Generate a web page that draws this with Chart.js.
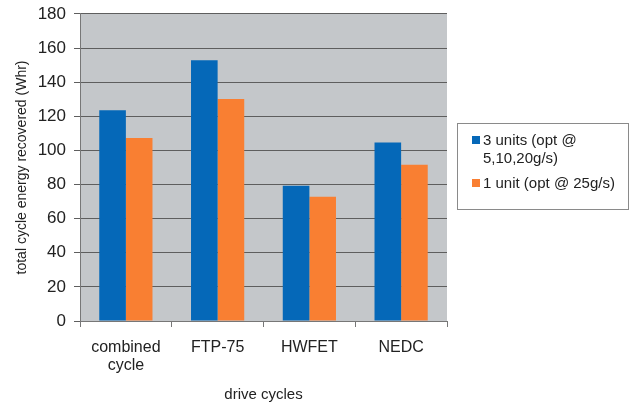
<!DOCTYPE html>
<html lang="en">
<head>
  <meta charset="UTF-8" />
  <title>Drive cycle energy recovered</title>
  <script src="https://cdn.jsdelivr.net/npm/chart.js"></script>
  <style>
    body {
      margin: 0;
      background: #fff;
      font-family: "Liberation Sans", Arial, sans-serif;
    }
    .wrap {
      position: relative;
      width: 631px;
      height: 406px;
    }
    #legend {
      position: absolute;
      left: 457px;
      top: 123px;
      width: 172px;
      height: 87px;
      border: 1px solid #8a8a8a;
      box-sizing: border-box;
      padding: 7px 0 0 14px;
      font-size: 15px;
      color: #222;
    }
    .item {
      display: flex;
      align-items: flex-start;
      line-height: 18px;
      margin-bottom: 7px;
    }
    .swatch {
      width: 8px;
      height: 8px;
      margin: 5px 3px 0 0;
      flex: none;
    }
    .item span.txt {
      width: 140px;
    }
  </style>
</head>
<body>
  <div class="wrap">
    <canvas id="chart" width="631" height="406"></canvas>
    <div id="legend"></div>
  </div>

  <script>
    const categories = [['combined', 'cycle'], 'FTP-75', 'HWFET', 'NEDC'];
    const threeUnits = [123.5, 152.8, 79.3, 104.7];
    const oneUnit = [107.3, 130.1, 72.9, 91.6];
    const seriesNames = ['3 units (opt @ 5,10,20g/s)', '1 unit (opt @ 25g/s)'];
    const seriesColors = ['#0568b8', '#f97f32'];
    const yTicks = [0, 20, 40, 60, 80, 100, 120, 140, 160, 180];

    // gray plot background like the old Excel charts
    const plotBg = {
      id: 'plotBg',
      beforeDraw(chart) {
        const { ctx, chartArea: a } = chart;
        ctx.save();
        ctx.fillStyle = '#c4c7ca';
        ctx.fillRect(a.left, a.top, a.right - a.left, a.bottom - a.top);
        ctx.restore();
      }
    };

    new Chart(document.getElementById('chart'), {
      type: 'bar',
      data: {
        labels: categories,
        datasets: [{
          label: seriesNames[0],
          data: threeUnits,
          backgroundColor: seriesColors[0]
        }, {
          label: seriesNames[1],
          data: oneUnit,
          backgroundColor: seriesColors[1]
        }]
      },
      options: {
        responsive: false,
        animation: false,
        categoryPercentage: 0.58,
        barPercentage: 1.0,
        layout: { padding: { top: 8, right: 184, left: 0, bottom: 0 } },
        plugins: {
          legend: { display: false },
          tooltip: { enabled: false }
        },
        scales: {
          x: {
            grid: {
              drawOnChartArea: false,
              offset: true,
              tickLength: 6,
              color: '#777'
            },
            border: { color: '#777' },
            ticks: {
              color: '#222',
              font: { family: 'Liberation Sans', size: 16, lineHeight: 1.1 },
              padding: 12,
              maxRotation: 0
            },
            title: {
              display: true,
              text: 'drive cycles',
              color: '#222',
              font: { family: 'Liberation Sans', size: 15, lineHeight: 1.2 },
              padding: { top: 0, bottom: 2 }
            },
            afterFit(scale) { scale.height = 85; }
          },
          y: {
            min: 0,
            max: 180,
            afterBuildTicks(scale) {
              scale.ticks = yTicks.map(v => ({ value: v }));
            },
            grid: {
              color: '#5e5e5e',
              tickLength: 6
            },
            border: { color: '#777' },
            ticks: {
              color: '#222',
              // small lineHeight keeps the top padding tight like the original
              font: { family: 'Liberation Sans', size: 17, lineHeight: 0.7 },
              padding: 8
            },
            title: {
              display: true,
              text: 'total cycle energy recovered (Whr)',
              color: '#222',
              font: { family: 'Liberation Sans', size: 14, lineHeight: 1.2 },
              padding: { top: 14, bottom: 0 }
            },
            afterFit(scale) { scale.width = 80; }
          }
        }
      },
      plugins: [plotBg]
    });

    // html legend so the long label can wrap like the original
    const legend = document.getElementById('legend');
    seriesNames.forEach((name, i) => {
      const item = document.createElement('div');
      item.className = 'item';
      const sw = document.createElement('span');
      sw.className = 'swatch';
      sw.style.background = seriesColors[i];
      const txt = document.createElement('span');
      txt.className = 'txt';
      txt.textContent = name;
      item.appendChild(sw);
      item.appendChild(txt);
      legend.appendChild(item);
    });
  </script>
</body>
</html>
